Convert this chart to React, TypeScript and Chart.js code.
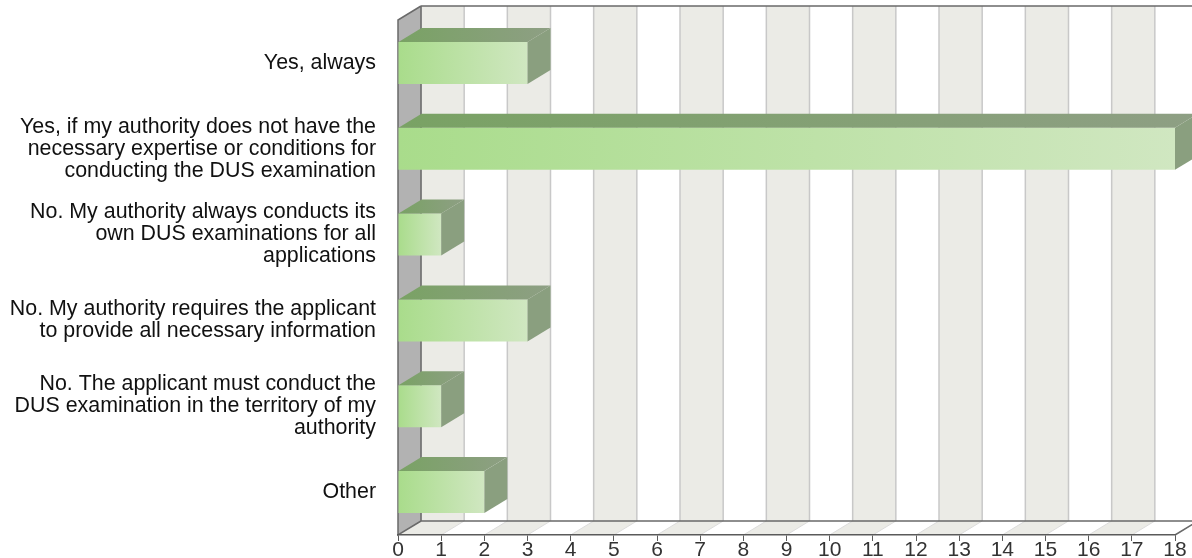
import React, { useEffect, useRef } from "react";
import { Chart, registerables } from "chart.js";

Chart.register(...registerables);

// ---- data ----
const categories: (string | string[])[] = [
  "Yes, always",
  [
    "Yes, if my authority does not have the",
    "necessary expertise or conditions for",
    "conducting the DUS examination",
  ],
  [
    "No. My authority always conducts its",
    "own DUS examinations for all",
    "applications",
  ],
  [
    "No. My authority requires the applicant",
    "to provide all necessary information",
  ],
  [
    "No. The applicant must conduct the",
    "DUS examination in the territory of my",
    "authority",
  ],
  "Other",
];
const responses = [3, 18, 1, 3, 1, 2];
const axisMin = 0;
const axisMax = 18;
const tickStep = 1;

// ---- 3D look ----
const DX = 23;
const DY = 14;
const FONT = "'Liberation Sans', Arial, sans-serif";

const box3d = {
  id: "box3d",
  beforeDraw(chart: any) {
    const { ctx, chartArea: a } = chart;
    const x = chart.scales.x;
    const { left, right, top, bottom } = a;
    const tickVals: number[] = x.ticks.map((t: any) => t.value);
    ctx.save();
    // back wall
    ctx.fillStyle = "#ffffff";
    ctx.fillRect(left + DX, top - DY, right - left, bottom - top);
    // alternating bands (back wall + floor)
    for (let i = 0; i < tickVals.length - 1; i++) {
      if (i % 2 !== 0) continue;
      const xa = x.getPixelForValue(tickVals[i]);
      const xb = x.getPixelForValue(tickVals[i + 1]);
      ctx.fillStyle = "#ebebe6";
      ctx.fillRect(xa + DX, top - DY, xb - xa, bottom - top);
      ctx.beginPath();
      ctx.moveTo(xa, bottom);
      ctx.lineTo(xa + DX, bottom - DY);
      ctx.lineTo(xb + DX, bottom - DY);
      ctx.lineTo(xb, bottom);
      ctx.closePath();
      ctx.fill();
    }
    // grid lines
    for (const v of tickVals) {
      const px = x.getPixelForValue(v);
      ctx.strokeStyle = "#c8c8c8";
      ctx.lineWidth = 1.5;
      ctx.beginPath();
      ctx.moveTo(px + DX, top - DY);
      ctx.lineTo(px + DX, bottom - DY);
      ctx.stroke();
      ctx.strokeStyle = "#dcdcdc";
      ctx.lineWidth = 1;
      ctx.beginPath();
      ctx.moveTo(px, bottom);
      ctx.lineTo(px + DX, bottom - DY);
      ctx.stroke();
    }
    // left wall
    ctx.fillStyle = "#b2b2b2";
    ctx.beginPath();
    ctx.moveTo(left, top);
    ctx.lineTo(left + DX, top - DY);
    ctx.lineTo(left + DX, bottom - DY);
    ctx.lineTo(left, bottom);
    ctx.closePath();
    ctx.fill();
    // outlines
    ctx.strokeStyle = "#6a6a6a";
    ctx.lineWidth = 1.5;
    ctx.beginPath();
    ctx.moveTo(left + DX, top - DY);
    ctx.lineTo(right + DX, top - DY);
    ctx.moveTo(left + DX, top - DY);
    ctx.lineTo(left + DX, bottom - DY);
    ctx.moveTo(left + DX, bottom - DY);
    ctx.lineTo(right + DX, bottom - DY);
    ctx.moveTo(left + DX, top - DY);
    ctx.lineTo(left, top);
    ctx.lineTo(left, bottom);
    ctx.lineTo(left + DX, bottom - DY);
    ctx.moveTo(right, bottom);
    ctx.lineTo(right + DX, bottom - DY);
    ctx.stroke();
    ctx.restore();
  },
  afterDatasetsDraw(chart: any) {
    const { ctx } = chart;
    const meta = chart.getDatasetMeta(0);
    ctx.save();
    meta.data.forEach((el: any) => {
      const p = el.getProps(["x", "y", "base", "height"], true);
      const x0 = p.base;
      const x1 = p.x;
      const yT = p.y - p.height / 2;
      const yB = p.y + p.height / 2;
      const g = ctx.createLinearGradient(x0, 0, x1 + DX, 0);
      g.addColorStop(0, "#79a264");
      g.addColorStop(1, "#8e9f84");
      ctx.fillStyle = g;
      ctx.beginPath();
      ctx.moveTo(x0, yT);
      ctx.lineTo(x0 + DX, yT - DY);
      ctx.lineTo(x1 + DX, yT - DY);
      ctx.lineTo(x1, yT);
      ctx.closePath();
      ctx.fill();
      ctx.fillStyle = "#8a9f7f";
      ctx.beginPath();
      ctx.moveTo(x1, yT);
      ctx.lineTo(x1 + DX, yT - DY);
      ctx.lineTo(x1 + DX, yB - DY);
      ctx.lineTo(x1, yB);
      ctx.closePath();
      ctx.fill();
    });
    ctx.restore();
  },
};

export default function App() {
  const ref = useRef<HTMLCanvasElement | null>(null);
  useEffect(() => {
    if (!ref.current) return;
    const chart = new Chart(ref.current, {
      type: "bar",
      data: {
        labels: categories,
        datasets: [
          {
            data: responses,
            borderWidth: 0,
            categoryPercentage: 1,
            barPercentage: 0.49,
            backgroundColor: (c: any) => {
              const ch = c.chart;
              if (!ch.chartArea) return "#b8e09e";
              const sx = ch.scales.x;
              const v = responses[c.dataIndex] ?? 0;
              const x0 = sx.getPixelForValue(axisMin);
              const x1 = sx.getPixelForValue(v);
              const g = ch.ctx.createLinearGradient(x0, 0, Math.max(x1, x0 + 1), 0);
              g.addColorStop(0, "#a9dc8b");
              g.addColorStop(1, "#d0e7c1");
              return g;
            },
          },
        ],
      },
      options: {
        indexAxis: "y",
        responsive: false,
        maintainAspectRatio: false,
        devicePixelRatio: 1,
        animation: false,
        layout: { padding: { top: 20, right: 17, left: 0, bottom: 0 } },
        plugins: {
          legend: { display: false },
          tooltip: { enabled: false },
        },
        scales: {
          x: {
            type: "linear",
            min: axisMin,
            max: axisMax,
            afterFit: (s: any) => {
              s.height = 23;
              s.paddingLeft = 0;
              s.paddingRight = 0;
            },
            ticks: {
              stepSize: tickStep,
              autoSkip: false,
              maxRotation: 0,
              padding: 1,
              color: "#333333",
              font: { family: FONT, size: 21, lineHeight: 0.8 },
            },
            grid: {
              display: true,
              drawOnChartArea: false,
              drawTicks: true,
              tickLength: 6,
              color: "#5a5a5a",
              lineWidth: 1,
            },
            border: { display: true, color: "#5a5a5a", width: 1.5 },
          },
          y: {
            type: "category",
            afterFit: (s: any) => {
              s.width = 398;
              s.paddingTop = 0;
              s.paddingBottom = 0;
            },
            ticks: {
              padding: 22,
              color: "#111111",
              autoSkip: false,
              font: { family: FONT, size: 21.4, lineHeight: 22 / 21.4 },
            },
            grid: { display: false, drawTicks: false },
            border: { display: false },
          },
        },
      },
      plugins: [box3d],
    } as any);
    return () => chart.destroy();
  }, []);
  return (
    <div style={{ position: "absolute", left: 0, top: 0, width: 1192, height: 558, background: "#fff" }}>
      <canvas ref={ref} width={1192} height={558} style={{ display: "block" }} />
    </div>
  );
}
